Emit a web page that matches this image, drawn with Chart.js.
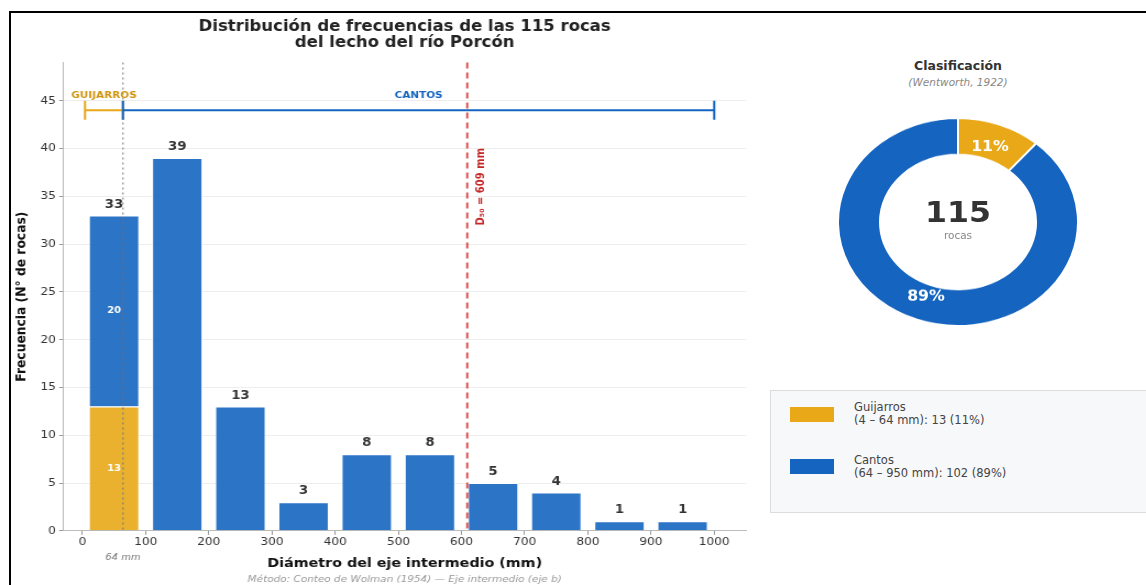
<!DOCTYPE html>
<html>
<head>
<meta charset="utf-8">
<script src="https://cdn.jsdelivr.net/npm/chart.js@4.4.1/dist/chart.umd.min.js"></script>
<style>
  body { margin: 0; width: 1146px; height: 585px; background: #fff; position: relative; overflow: hidden; font-family: "DejaVu Sans", sans-serif; }
  #frame { position: absolute; left: 9px; top: 11px; width: 1160px; height: 600px; border: 2px solid #000; }
  /* the source figure is a little stretched horizontally */
  #histWrap { position: absolute; left: 0; top: 0; width: 690px; height: 585px; transform: scaleX(1.1); transform-origin: 0 0; }
  #donutWrap { position: absolute; left: 837px; top: 101px; width: 242px; height: 242px; transform: scaleY(0.865); transform-origin: center center; }
  .dtitle { position: absolute; left: 838px; width: 240px; text-align: center; }
  .ctext { position: absolute; left: 858px; width: 200px; text-align: center; }
  #legendBox { position: absolute; left: 770px; top: 390px; width: 400px; height: 121px; background: #f7f8fa; border: 1px solid #dcdcdc; }
  .sw { position: absolute; left: 19px; width: 44px; height: 15px; }
  .lt { position: absolute; left: 83px; font-size: 11.5px; line-height: 12.7px; color: #444; }
</style>
</head>
<body>
<div id="frame"></div>
<div id="histWrap"><canvas id="histChart"></canvas></div>

<div class="dtitle" style="top:58px;font-size:12.5px;font-weight:bold;color:#333;">Clasificación</div>
<div class="dtitle" style="top:76px;font-size:10.5px;font-style:italic;color:#888;">(Wentworth, 1922)</div>
<div id="donutWrap"><canvas id="donutChart"></canvas></div>
<div class="ctext" style="top:195px;font-size:29px;font-weight:bold;color:#333;transform:scaleX(1.09);">115</div>
<div class="ctext" style="top:229px;font-size:10.5px;color:#888;">rocas</div>

<div id="legendBox">
  <div class="sw" style="top:16px;background:#e8a817;"></div>
  <div class="lt" style="top:10px;">Guijarros<br>(4 – 64 mm): 13 (11%)</div>
  <div class="sw" style="top:68px;background:#1565c0;"></div>
  <div class="lt" style="top:63px;">Cantos<br>(64 – 950 mm): 102 (89%)</div>
</div>

<script>
// bin centres (mm) and counts per class
const binCenters = [50, 150, 250, 350, 450, 550, 650, 750, 850, 950];
const guijarrosCounts = [13, 0, 0, 0, 0, 0, 0, 0, 0, 0];
const cantosCounts = [20, 39, 13, 3, 8, 8, 5, 4, 1, 1];
const xTicks = [0, 100, 200, 300, 400, 500, 600, 700, 800, 900, 1000];
const yTicks = [0, 5, 10, 15, 20, 25, 30, 35, 40, 45];
const classNames = ["Guijarros", "Cantos"];
const classTotals = [13, 102];
const guijarrosRange = [4, 64];
const cantosRange = [64, 1000];
const d50 = 609;
const totalRocks = 115;

const YELLOW = "#e8a817";
const BLUE = "#1565c0";

const histCanvas = document.getElementById("histChart");
const donutCanvas = document.getElementById("donutChart");

// labels on top of the bars + values inside the mixed bar
const barLabels = {
  id: "barLabels",
  afterDatasetsDraw(chart) {
    const ctx = chart.ctx;
    const xs = chart.scales.x;
    const ys = chart.scales.y;
    ctx.save();
    ctx.textAlign = "center";
    binCenters.forEach((c, i) => {
      const total = guijarrosCounts[i] + cantosCounts[i];
      ctx.fillStyle = "#333";
      ctx.font = "bold 12px 'DejaVu Sans'";
      ctx.textBaseline = "bottom";
      ctx.fillText(total, xs.getPixelForValue(c), ys.getPixelForValue(total) - 5);
      if (guijarrosCounts[i] > 0 && cantosCounts[i] > 0) {
        ctx.fillStyle = "#fff";
        ctx.font = "bold 9px 'DejaVu Sans'";
        ctx.textBaseline = "middle";
        const g = guijarrosCounts[i];
        ctx.fillText(g, xs.getPixelForValue(c), ys.getPixelForValue(g / 2));
        ctx.fillText(cantosCounts[i], xs.getPixelForValue(c), ys.getPixelForValue(g + cantosCounts[i] / 2));
      }
    });
    ctx.restore();
  },
};

// class ranges, 64 mm limit and D50 line
const classMarks = {
  id: "classMarks",
  afterDatasetsDraw(chart) {
    const ctx = chart.ctx;
    const xs = chart.scales.x;
    const ys = chart.scales.y;
    const area = chart.chartArea;
    ctx.save();

    // 64 mm dotted limit
    const x64 = xs.getPixelForValue(64);
    ctx.strokeStyle = "rgba(110,110,110,0.8)";
    ctx.lineWidth = 1.2;
    ctx.setLineDash([2, 3]);
    ctx.beginPath();
    ctx.moveTo(x64, area.top);
    ctx.lineTo(x64, area.bottom);
    ctx.stroke();

    // D50 dashed line
    const xd = xs.getPixelForValue(d50);
    ctx.strokeStyle = "rgba(211,47,47,0.85)";
    ctx.lineWidth = 1.9;
    ctx.setLineDash([6, 4]);
    ctx.beginPath();
    ctx.moveTo(xd, area.top);
    ctx.lineTo(xd, area.bottom);
    ctx.stroke();
    ctx.setLineDash([]);

    ctx.save();
    ctx.translate(xd + 13, ys.getPixelForValue(36));
    ctx.rotate(-Math.PI / 2);
    ctx.fillStyle = "#c62828";
    ctx.font = "bold 10px 'DejaVu Sans'";
    ctx.textAlign = "center";
    ctx.textBaseline = "middle";
    ctx.fillText("D₅₀ = " + d50 + " mm", 0, 0);
    ctx.restore();

    // range brackets
    const drawRange = (range, color, label, labelColor) => {
      const y = ys.getPixelForValue(44);
      const y1 = ys.getPixelForValue(43);
      const y2 = ys.getPixelForValue(45);
      const a = xs.getPixelForValue(range[0]);
      const b = xs.getPixelForValue(range[1]);
      ctx.strokeStyle = color;
      ctx.lineWidth = 2;
      ctx.beginPath();
      ctx.moveTo(a, y); ctx.lineTo(b, y);
      ctx.moveTo(a, y1); ctx.lineTo(a, y2);
      ctx.moveTo(b, y1); ctx.lineTo(b, y2);
      ctx.stroke();
      ctx.fillStyle = labelColor;
      ctx.font = "bold 9.5px 'DejaVu Sans'";
      ctx.textAlign = "center";
      ctx.textBaseline = "middle";
      ctx.fillText(label, (a + b) / 2, ys.getPixelForValue(45.5));
    };
    drawRange(guijarrosRange, YELLOW, "GUIJARROS", "#cf9510");
    drawRange(cantosRange, BLUE, "CANTOS", BLUE);

    // 64 mm note under the axis
    ctx.fillStyle = "#777";
    ctx.font = "italic 9px 'DejaVu Sans'";
    ctx.textAlign = "center";
    ctx.textBaseline = "middle";
    ctx.fillText("64 mm", x64, area.bottom + 27);
    ctx.restore();
  },
};

new Chart(histCanvas, {
  type: "bar",
  data: {
    datasets: [
      {
        label: classNames[0],
        data: binCenters.map((c, i) => ({ x: c, y: guijarrosCounts[i] })),
        backgroundColor: "rgba(232,168,23,0.9)",
        borderColor: "#ffffff",
        borderWidth: 1,
      },
      {
        label: classNames[1],
        data: binCenters.map((c, i) => ({ x: c, y: cantosCounts[i] })),
        backgroundColor: "rgba(21,101,192,0.9)",
        borderColor: "#ffffff",
        borderWidth: 1,
      },
    ],
  },
  options: {
    responsive: true,
    maintainAspectRatio: false,
    animation: false,
    barPercentage: 0.8,
    categoryPercentage: 1,
    layout: { padding: { left: 12, right: 12, top: 19, bottom: 0 } },
    scales: {
      x: {
        type: "linear",
        stacked: true,
        offset: false,
        min: -30,
        max: 1050,
        afterBuildTicks: (axis) => { axis.ticks = xTicks.map((v) => ({ value: v })); },
        ticks: {
          color: "#333",
          font: { size: 11, family: "DejaVu Sans" },
          padding: 1,
          callback: (v) => String(v),
        },
        grid: { offset: false, drawOnChartArea: false, tickLength: 4, tickColor: "#999" },
        border: { color: "#bbb" },
        title: {
          display: true,
          text: "Diámetro del eje intermedio (mm)",
          color: "#111",
          font: { size: 13, weight: "bold", family: "DejaVu Sans" },
          padding: { top: 6, bottom: 2 },
        },
      },
      y: {
        stacked: true,
        min: 0,
        max: 49,
        afterBuildTicks: (axis) => { axis.ticks = yTicks.map((v) => ({ value: v })); },
        ticks: { color: "#333", font: { size: 11, family: "DejaVu Sans" }, padding: 3 },
        grid: { color: "#eeeeee", tickLength: 4, tickColor: "#999" },
        border: { color: "#bbb" },
        title: {
          display: true,
          text: "Frecuencia (N° de rocas)",
          color: "#111",
          font: { size: 12.3, weight: "bold", family: "DejaVu Sans" },
          padding: { top: 0, bottom: 7 },
        },
      },
    },
    plugins: {
      legend: { display: false },
      tooltip: { enabled: false },
      title: {
        display: true,
        fullSize: false,
        text: ["Distribución de frecuencias de las 115 rocas", "del lecho del río Porcón"],
        color: "#222",
        font: { size: 15, weight: "bold", family: "DejaVu Sans", lineHeight: 1.05 },
        padding: { top: 0, bottom: 12 },
      },
      subtitle: {
        display: true,
        position: "bottom",
        fullSize: false,
        text: "Método: Conteo de Wolman (1954) — Eje intermedio (eje b)",
        color: "#999",
        font: { size: 9.5, style: "italic", family: "DejaVu Sans" },
        padding: { top: 0, bottom: 0 },
      },
    },
  },
  plugins: [barLabels, classMarks],
});

// percentage labels on the ring (undo the vertical squeeze for the text)
const donutText = {
  id: "donutText",
  afterDatasetsDraw(chart) {
    const ctx = chart.ctx;
    const meta = chart.getDatasetMeta(0);
    const cx = (chart.chartArea.left + chart.chartArea.right) / 2;
    const cy = (chart.chartArea.top + chart.chartArea.bottom) / 2;
    ctx.save();
    ctx.textAlign = "center";
    ctx.textBaseline = "middle";
    ctx.fillStyle = "#fff";
    ctx.font = "bold 15px 'DejaVu Sans'";
    meta.data.forEach((arc, i) => {
      const p = arc.getCenterPoint();
      const pct = Math.round((classTotals[i] / totalRocks) * 100);
      ctx.save();
      ctx.translate(cx + (p.x - cx) * 0.93, cy + (p.y - cy) * 0.93);
      ctx.scale(1.05, 1 / 0.865);
      ctx.fillText(pct + "%", 0, 0);
      ctx.restore();
    });
    ctx.restore();
  },
};

new Chart(donutCanvas, {
  type: "doughnut",
  data: {
    labels: classNames,
    datasets: [
      {
        data: classTotals,
        backgroundColor: [YELLOW, BLUE],
        borderColor: "#ffffff",
        borderWidth: 2,
      },
    ],
  },
  options: {
    responsive: true,
    maintainAspectRatio: false,
    animation: false,
    cutout: "65%",
    layout: { padding: 0 },
    plugins: { legend: { display: false }, tooltip: { enabled: false } },
  },
  plugins: [donutText],
});
</script>
</body>
</html>
